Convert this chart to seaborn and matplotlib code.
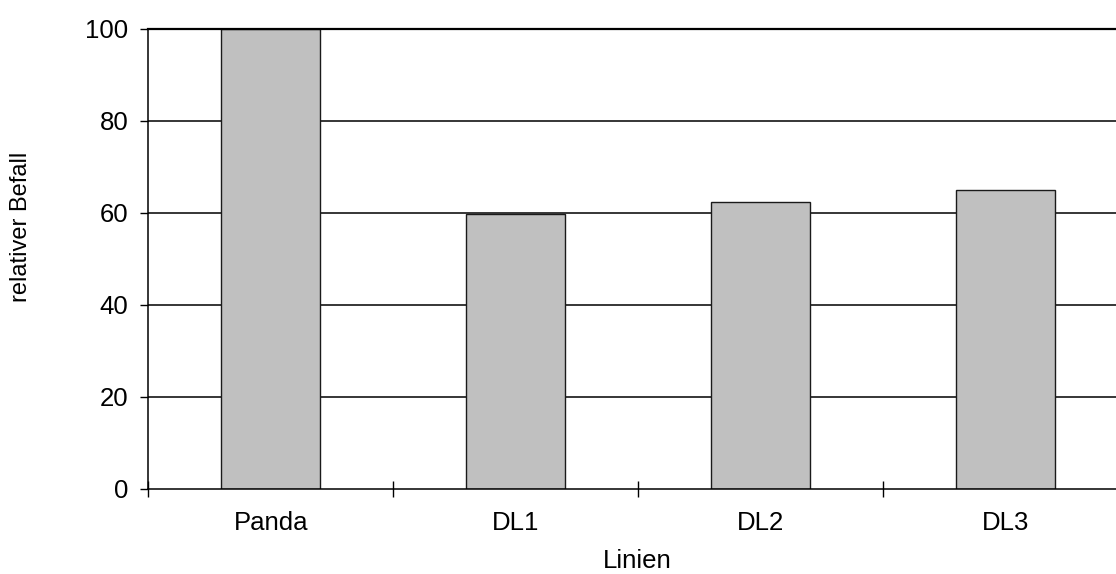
import matplotlib
matplotlib.use("Agg")
import matplotlib.pyplot as plt
import seaborn as sns
import pandas as pd
import numpy as np

# Relative infestation per line
linien = ["Panda", "DL1", "DL2", "DL3"]
befall = [100.0, 59.7, 62.4, 65.0]

df = pd.DataFrame({"Linien": linien, "Befall": befall})

sns.set_theme(style="white")
plt.rcParams["font.family"] = ["Liberation Sans", "DejaVu Sans"]
plt.rcParams["text.color"] = "black"
plt.rcParams["xtick.labelcolor"] = "black"
plt.rcParams["ytick.labelcolor"] = "black"

W, H = 1116, 574
fig = plt.figure(figsize=(W / 100, H / 100), dpi=100)
fig.patch.set_facecolor("white")

# plot area (wider than the figure; the last category's right edge is cut off)
left, bottom, right, top = 148.3, 488.7, 1128.5, 29.0
ax = fig.add_axes([left / W, (H - bottom) / H, (right - left) / W, (bottom - top) / H])
ax.set_facecolor("white")

sns.barplot(data=df, x="Linien", y="Befall", ax=ax, color="#c0c0c0",
            saturation=1, width=0.404, edgecolor="#1a1a1a", linewidth=1.0)

ax.set_xlim(-0.5, 3.5)
ax.set_ylim(0, 100)

# horizontal gridlines behind the bars
ax.set_axisbelow(True)
ax.set_yticks(np.arange(0, 101, 20))
for y in np.arange(20, 100, 20):
    ax.axhline(y, color="black", lw=1.1, zorder=0)

# category boundaries carry the tick marks; names sit between them
ax.set_xticks([-0.5, 0.5, 1.5, 2.5])
ax.set_xticklabels([])
ax.set_xticks(range(len(linien)), minor=True)
ax.set_xticklabels(linien, minor=True, fontsize=18.5, color="black")
ax.tick_params(axis="x", which="major", direction="inout", length=11, width=1.0,
               color="black", bottom=True)
ax.tick_params(axis="x", which="minor", length=0, pad=16)
ax.tick_params(axis="y", direction="out", length=6, width=1.0, color="black",
               labelsize=18.5, labelcolor="black", pad=8.5, left=True)

ax.spines["right"].set_visible(False)
ax.spines["top"].set_color("black")
ax.spines["top"].set_linewidth(1.6)
for s in ["left", "bottom"]:
    ax.spines[s].set_color("black")
    ax.spines[s].set_linewidth(1.1)

ax.set_xlabel("")
ax.set_ylabel("")
fig.text(637 / W, 1 - 561 / H, "Linien", ha="center", va="center", fontsize=18.5,
         color="black")
fig.text(21 / W, 1 - 227 / H, "relativer Befall", ha="center", va="center",
         rotation=90, fontsize=17, color="black")

fig.savefig("out.png", dpi=100, facecolor="white")
